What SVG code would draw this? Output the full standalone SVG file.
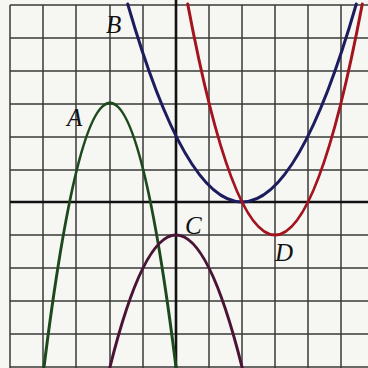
<svg xmlns="http://www.w3.org/2000/svg" width="368" height="368" viewBox="0 0 368 368">
<style>
.grid{stroke:#3a3a3a;stroke-width:1.5;fill:none}
.axis{stroke:#111;stroke-width:2.6;fill:none}
.curve{fill:none;stroke-width:3;stroke-linecap:round}
.lbl{font-family:"Liberation Serif",serif;font-style:italic;font-size:25px;fill:#111}
</style>
<rect width="368" height="368" fill="#f6f6f3"/>
<g id="grid">
<path class="grid" d="M10 5V368M43 5V368M76 5V368M110 5V368M143 5V368M209 5V368M242 5V368M275 5V368M308 5V368M341 5V368"/>
<path class="grid" d="M10 5H368M10 38H368M10 71H368M10 104H368M10 137H368M10 170H368M10 235H368M10 268H368M10 301H368M10 334H368M10 367H368"/>
</g>
<g id="axes">
<path class="axis" d="M176 0V368M10 202H368"/>
</g>
<g id="curves">
<g id="A"><path class="curve" stroke="#1d4a1d" d="M44 367Q110 -161 176 367"/><text class="lbl" x="67" y="126">A</text></g>
<g id="B"><path class="curve" stroke="#1c1c5e" d="M127.7 4Q242 400 356.3 4"/><text class="lbl" x="106" y="33">B</text></g>
<g id="C"><path class="curve" stroke="#4a1434" d="M110 367Q176 103 242 367"/><text class="lbl" x="185" y="234">C</text></g>
<g id="D"><path class="curve" stroke="#a3141e" d="M187.7 4Q275 466 362.3 4"/><text class="lbl" x="275" y="261">D</text></g>
</g>
</svg>
